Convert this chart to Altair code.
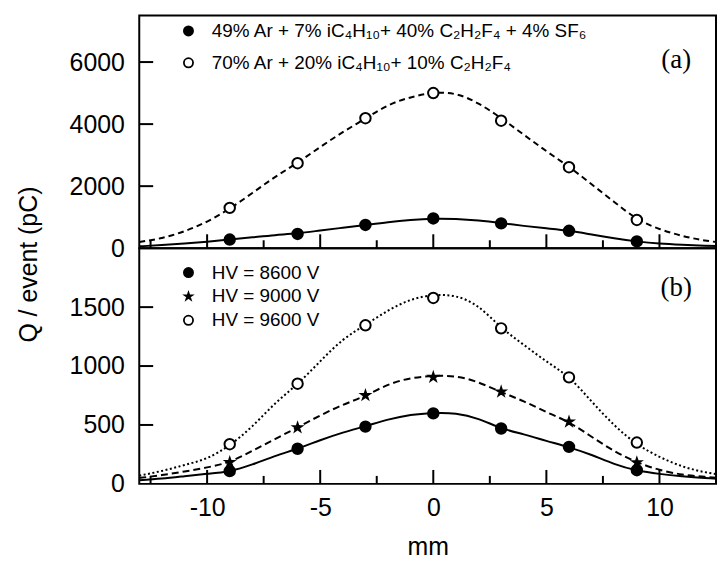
import altair as alt
import pandas as pd

# ---------------- data ----------------
x_curve = list(range(-13, 14))
a_solid = [60, 100, 150, 210, 280, 350, 420, 480, 570, 660, 750, 840, 910, 950, 940, 890, 810, 720, 640, 560, 440, 320, 220, 150, 110, 80, 60]
a_dashed = [200, 330, 550, 860, 1280, 1780, 2290, 2760, 3260, 3740, 4180, 4600, 4860, 5000, 4960, 4660, 4190, 3660, 3130, 2620, 2060, 1490, 960, 620, 400, 250, 160]

b_solid = [30, 45, 65, 85, 110, 165, 235, 300, 370, 435, 490, 545, 585, 600, 595, 550, 475, 420, 365, 310, 245, 170, 115, 85, 65, 50, 40]
b_dashed = [50, 75, 105, 140, 190, 280, 380, 480, 580, 670, 750, 840, 895, 915, 910, 860, 780, 700, 610, 520, 400, 280, 185, 120, 80, 60, 45]
b_dotted = [70, 110, 160, 220, 330, 490, 680, 850, 1040, 1220, 1350, 1470, 1560, 1600, 1590, 1500, 1330, 1180, 1040, 900, 700, 500, 340, 230, 150, 100, 70]

x_points = [-9, -6, -3, 0, 3, 6, 9]
a_labels = ["49% Ar + 7% iC₄H₁₀+ 40% C₂H₂F₄ + 4% SF₆", "70% Ar + 20% iC₄H₁₀+ 10% C₂H₂F₄"]
a_filled_pts = [280, 460, 750, 960, 800, 560, 220]
a_open_pts = [1300, 2740, 4190, 5000, 4110, 2610, 910]

b_labels = ["HV = 8600 V", "HV = 9000 V", "HV = 9600 V"]
b_8600_pts = [108, 298, 486, 598, 470, 314, 116]
b_9000_pts = [183, 478, 752, 906, 782, 527, 181]
b_9600_pts = [337, 850, 1346, 1578, 1320, 904, 351]

x_label_values = [-10, -5, 0, 5, 10]
x_major_ticks = [-10, -5, 0, 5, 10]
x_minor_ticks = [-12.5, -7.5, -2.5, 2.5, 7.5]
a_y_labels = [0, 2000, 4000, 6000]
a_y_ticks = [2000, 4000, 6000]
b_y_labels = [0, 500, 1000, 1500]
b_y_ticks = [500, 1000, 1500]

# ---------------- layout ----------------
W = 580
HA = 234
HB = 237
XDOM = [-13, 12.5]
FONT = "Liberation Sans"
STAR = "M0,-0.8L0.18,-0.247L0.761,-0.247L0.29,0.094L0.47,0.647L0,0.306L-0.47,0.647L-0.29,0.094L-0.761,-0.247L-0.18,-0.247Z"


def x_enc(show):
    if show:
        ax = alt.Axis(values=x_label_values, ticks=False, tickSize=0, domain=False, grid=False,
                      labelFont=FONT, labelFontSize=25, labelColor="black", labelPadding=12,
                      labelExpr="'' + datum.value", labelFlush=False,
                      title="mm", titleFont=FONT, titleFontSize=25, titleFontWeight="normal",
                      titleColor="black", titleY=71, titleBaseline="alphabetic")
    else:
        ax = None
    return alt.X("x:Q", scale=alt.Scale(domain=XDOM, nice=False, zero=False), axis=ax)


def y_enc(ydom, labels, title):
    kw = dict(values=labels, ticks=False, tickSize=0, domain=False, grid=False,
              labelFont=FONT, labelFontSize=25, labelColor="black", labelPadding=15,
              labelFlush=False, labelOverlap=False, labelExpr="'' + datum.value")
    if title:
        kw.update(title=title, titleFont=FONT, titleFontSize=25, titleFontWeight="normal",
                  titleColor="black", titleX=-111, titleY=250, titleBaseline="middle")
    else:
        kw.update(title=None)
    return alt.Y("y:Q", scale=alt.Scale(domain=ydom, nice=False, zero=False), axis=alt.Axis(**kw))


def panel(curves, pts, labels, shapes, fills, y_ticks, y_labels, ydom, H, show_x, tag,
          tag_y, leg_y, row_pad, title):
    X = x_enc(show_x)
    Y = y_enc(ydom, y_labels, title)
    layers = []
    for vals, dash in curves:
        df = pd.DataFrame({"x": x_curve, "y": vals})
        mk = dict(color="black", strokeWidth=2, clip=True, interpolate="natural")
        if dash:
            mk["strokeDash"] = dash
        layers.append(alt.Chart(df).mark_line(**mk).encode(x=X, y=Y))
    rows = []
    for lab, vals in zip(labels, pts):
        for xv, yv in zip(x_points, vals):
            rows.append({"x": xv, "y": yv, "series": lab})
    pdf = pd.DataFrame(rows)
    leg = dict(title=None, orient="none", legendX=40, legendY=leg_y, padding=0,
               labelFont=FONT, labelFontSize=19, labelColor="black", labelOffset=14,
               symbolSize=85, symbolStrokeColor="black", symbolStrokeWidth=1.8,
               rowPadding=row_pad, labelLimit=600)
    layers.append(
        alt.Chart(pdf).mark_point(filled=True, size=110, strokeWidth=2, opacity=1)
        .encode(x=X, y=Y,
                shape=alt.Shape("series:N", scale=alt.Scale(domain=labels, range=shapes),
                                legend=alt.Legend(**leg)),
                fill=alt.Fill("series:N", scale=alt.Scale(domain=labels, range=fills),
                              legend=alt.Legend(**leg)),
                stroke=alt.Stroke("series:N", scale=alt.Scale(domain=labels, range=["black"] * len(labels)),
                                  legend=alt.Legend(**leg)))
    )
    # inward ticks
    layers.append(alt.Chart(pd.DataFrame({"x": x_major_ticks})).mark_rule(color="black", strokeWidth=2)
                  .encode(x=X, y=alt.value(H), y2=alt.value(H - 14)))
    layers.append(alt.Chart(pd.DataFrame({"x": x_minor_ticks})).mark_rule(color="black", strokeWidth=2)
                  .encode(x=X, y=alt.value(H), y2=alt.value(H - 8)))
    layers.append(alt.Chart(pd.DataFrame({"y": y_ticks})).mark_rule(color="black", strokeWidth=2)
                  .encode(y=Y, x=alt.value(0), x2=alt.value(14)))
    layers.append(alt.Chart(pd.DataFrame({"t": [tag]}))
                  .mark_text(font="Liberation Serif", fontSize=27, color="black",
                             x=540, y=tag_y, align="center", baseline="middle")
                  .encode(text="t:N"))
    return (alt.layer(*layers)
            .resolve_scale(shape="independent", fill="independent", stroke="independent")
            .properties(width=W, height=H))


top = panel([(a_solid, None), (a_dashed, [6, 4])], [a_filled_pts, a_open_pts], a_labels,
            ["circle", "circle"], ["black", "white"], a_y_ticks, a_y_labels, [0, 7500], HA,
            False, "(a)", 45, 6, 12, "Q / event (pC)")
bottom = panel([(b_solid, None), (b_dashed, [7, 4]), (b_dotted, [2, 2.5])],
               [b_8600_pts, b_9000_pts, b_9600_pts], b_labels,
               ["circle", STAR, "circle"], ["black", "black", "white"], b_y_ticks, b_y_labels,
               [0, 2000], HB, True, "(b)", 40, 15, 4, None)

chart = (
    alt.vconcat(top, bottom, spacing=0, bounds="flush")
    .resolve_scale(x="independent", y="independent", shape="independent", fill="independent",
                   stroke="independent")
    .resolve_legend(shape="independent", fill="independent", stroke="independent")
    .properties(padding={"left": 8, "top": 5, "right": 0, "bottom": 0}, background="white")
    .configure_view(stroke="black", strokeWidth=2)
)

chart.save("out.html", embed_options={"renderer": "svg", "actions": False})
